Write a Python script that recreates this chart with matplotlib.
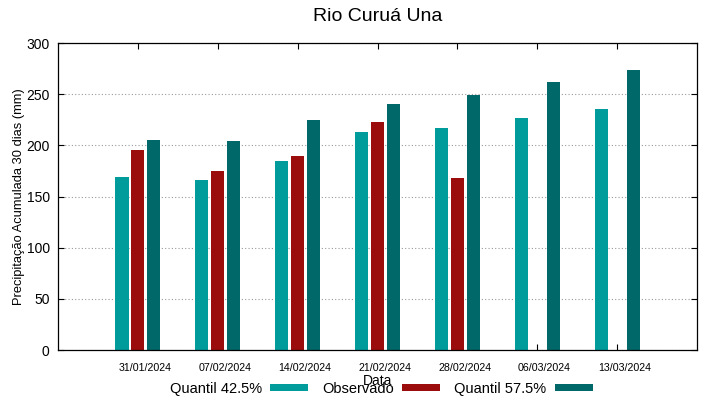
import numpy as np
import matplotlib.pyplot as plt

plt.rcParams['font.family'] = ['Liberation Sans', 'DejaVu Sans']

# --- dados ---
datas = ['31/01/2024', '07/02/2024', '14/02/2024', '21/02/2024',
         '28/02/2024', '06/03/2024', '13/03/2024']
quantil_425 = [169, 166, 185, 213, 217, 227, 236]
observado = [195, 175, 190, 223, 168, np.nan, np.nan]
quantil_575 = [205, 204, 225, 240, 249, 262, 274]

cor_q425 = '#009b9b'
cor_obs = '#9b0d0d'
cor_q575 = '#006868'

fig = plt.figure(figsize=(7.19, 3.99), dpi=100)
ax = fig.add_axes([0.0807, 0.1228, 0.9694 - 0.0807, 0.8922 - 0.1228])

x = np.arange(len(datas))
larg = 0.165
b1 = ax.bar(x - 0.2, quantil_425, larg, color=cor_q425, label='Quantil 42.5%')
b2 = ax.bar(x, observado, larg, color=cor_obs, label='Observado')
b3 = ax.bar(x + 0.2, quantil_575, larg, color=cor_q575, label='Quantil 57.5%')

ax.set_xlim(-1, 7)
ax.set_ylim(0, 300)
ax.set_yticks(np.arange(0, 301, 50))
# marcas no centro de cada grupo, rótulos um pouco à direita (como no gnuplot)
ax.set_xticks(x, minor=True)
ax.set_xticks(x + 0.09)
ax.set_xticklabels(datas, fontsize=7.7)

ax.tick_params(axis='both', which='both', direction='in', top=True, right=True,
               length=4, width=0.8)
ax.tick_params(axis='x', which='major', length=0, pad=9)
ax.tick_params(axis='y', labelsize=10, pad=6)
ax.yaxis.grid(True, linestyle=(0, (1, 2)), color='#999999', linewidth=0.8)
ax.set_axisbelow(True)
for s in ax.spines.values():
    s.set_linewidth(0.9)

ax.set_ylabel('Precipitação Acumulada 30 dias (mm)', fontsize=9.3, labelpad=1)
ax.set_xlabel('Data', fontsize=10, labelpad=1)
ax.set_title('Rio Curuá Una', fontsize=14, pad=16)

ax.legend(handles=[b1, b2, b3], loc='lower center', bbox_to_anchor=(0.53, -0.025),
          bbox_transform=fig.transFigure, ncol=3, frameon=False, markerfirst=False,
          fontsize=10.5, handlelength=2.6, handleheight=0.4, columnspacing=1.0,
          handletextpad=0.55)

fig.savefig('out.png', dpi=100)
